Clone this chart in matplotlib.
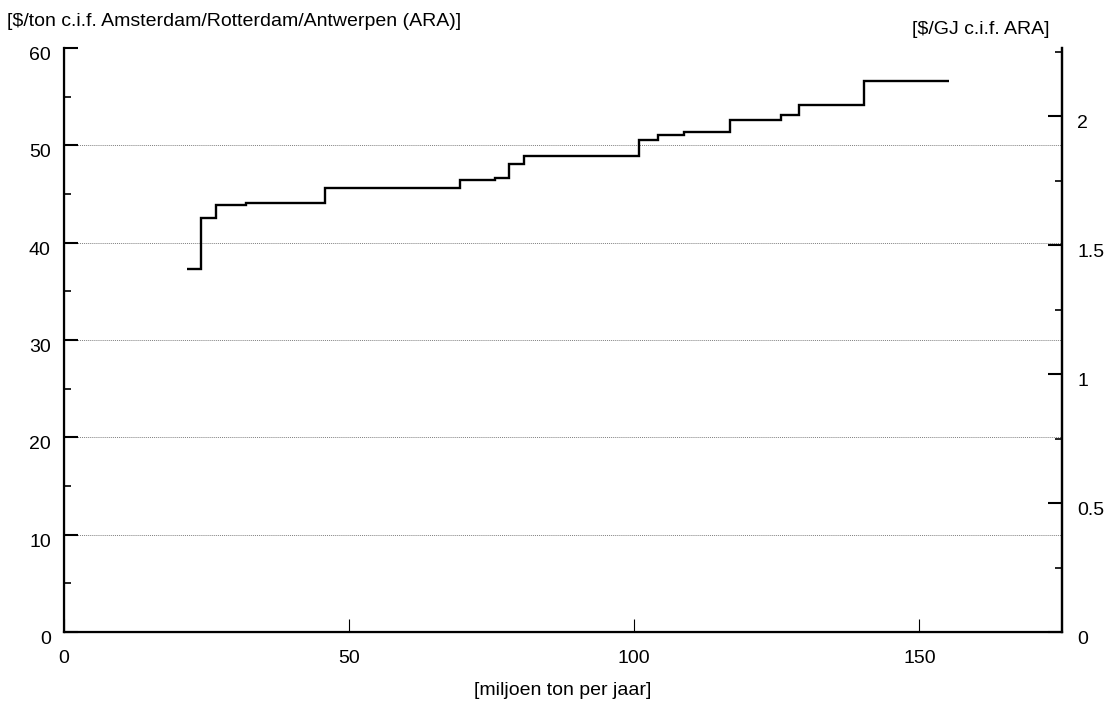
import numpy as np
import matplotlib
matplotlib.use("Agg")
import matplotlib.pyplot as plt
from matplotlib.ticker import MultipleLocator, FormatStrFormatter
from matplotlib.transforms import ScaledTranslation

plt.rcParams['font.family'] = ['Liberation Sans', 'DejaVu Sans']

# supply curve: cumulative volume (million t/yr) edges and price per step ($/t)
volume_edges = [21.5, 24.1, 26.6, 32.0, 45.8, 69.5, 75.5, 78.0, 80.6, 100.8,
                104.2, 108.8, 116.7, 125.8, 128.9, 140.3, 155.2]
price_ton = [37.3, 42.5, 43.9, 44.1, 45.6, 46.4, 46.6, 48.1, 48.9, 50.6,
             51.1, 51.4, 52.6, 53.1, 54.1, 56.6]
gj_per_ton = 26.5

left_label = "[$/ton c.i.f. Amsterdam/Rotterdam/Antwerpen (ARA)]"
right_label = "[$/GJ c.i.f. ARA]"
x_label = "[miljoen ton per jaar]"

fs = 14

fig = plt.figure(figsize=(11.09, 7.06), dpi=100)
ax = fig.add_axes([0.0577, 0.1048, 0.8999, 0.8272])

ax.stairs(price_ton, volume_edges, color="black", linewidth=1.7, baseline=None)

ax.set_xlim(0, 175)
ax.set_ylim(0, 60)

# dotted horizontal guides
for y in [10, 20, 30, 40, 50]:
    ax.axhline(y, color="#808080", linestyle=(0, (1, 1)), linewidth=0.7, zorder=0)

ax.spines["top"].set_visible(False)
for side in ["left", "bottom", "right"]:
    ax.spines[side].set_linewidth(1.6)

ax.xaxis.set_major_locator(MultipleLocator(50))
ax.yaxis.set_major_locator(MultipleLocator(10))
ax.yaxis.set_minor_locator(MultipleLocator(5))
ax.tick_params(axis="x", direction="in", length=9.5, width=0.8, pad=13, labelsize=fs)
ax.tick_params(axis="y", which="major", direction="in", length=10, width=1.5, pad=9.5, labelsize=fs)
ax.tick_params(axis="y", which="minor", direction="in", length=5, width=1.2)
ax.set_xlabel(x_label, fontsize=fs, labelpad=11)

ax2 = ax.twinx()
ax2.set_ylim(0, 60 / gj_per_ton)
ax2.spines["top"].set_visible(False)
ax2.spines["right"].set_linewidth(1.6)
ax2.yaxis.set_major_locator(MultipleLocator(0.5))
ax2.yaxis.set_minor_locator(MultipleLocator(0.25))
ax2.yaxis.set_major_formatter(FormatStrFormatter("%g"))
ax2.tick_params(axis="y", which="major", direction="in", length=10, width=1.5, pad=11, labelsize=fs)
ax2.tick_params(axis="y", which="minor", direction="in", length=5, width=1.2)

# nudge y tick labels slightly below their ticks
shift = ScaledTranslation(0, -5.5 / 100, fig.dpi_scale_trans)
for a in (ax, ax2):
    for lbl in a.get_yticklabels():
        lbl.set_transform(lbl.get_transform() + shift)

fig.text(7 / 1109, 1 - 22 / 706, left_label, fontsize=fs, ha="left", va="center")
fig.text(1049 / 1109, 1 - 30 / 706, right_label, fontsize=fs, ha="right", va="center")

fig.savefig("out.png", dpi=100)
